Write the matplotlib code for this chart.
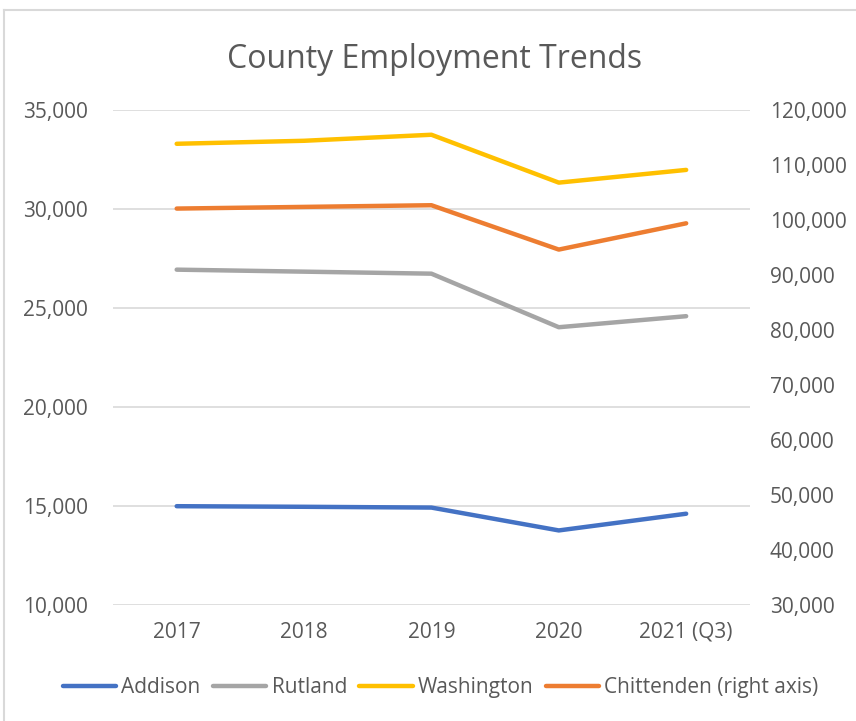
import matplotlib.pyplot as plt
from matplotlib.lines import Line2D
from matplotlib.ticker import FuncFormatter, MultipleLocator

years = ["2017", "2018", "2019", "2020", "2021 (Q3)"]
addison = [14990, 14960, 14920, 13765, 14610]
rutland = [26946, 26845, 26743, 24036, 24594]
washington = [33308, 33460, 33765, 31345, 31988]
chittenden = [102120, 102425, 102730, 94660, 99440]

TEXT = "#595959"
GRID = "#D9D9D9"

plt.rcParams['font.family'] = ['Open Sans', 'DejaVu Sans']


def thousands(v, pos):
    return f"{int(v):,}"


fig = plt.figure(figsize=(8.56, 7.21), dpi=100)
ax = fig.add_axes([0.132, 0.161, 0.744, 0.686])
ax2 = ax.twinx()

x = range(len(years))
line_kw = dict(linewidth=3.2, solid_capstyle='round', solid_joinstyle='round')
ax.plot(x, addison, color="#4472C4", label="Addison", **line_kw)
ax.plot(x, rutland, color="#A5A5A5", label="Rutland", **line_kw)
ax.plot(x, washington, color="#FFC000", label="Washington", **line_kw)
ax2.plot(x, chittenden, color="#ED7D31", label="Chittenden (right axis)", **line_kw)

ax.set_xlim(-0.5, len(years) - 0.5)
ax.set_ylim(10000, 35000)
ax2.set_ylim(30000, 120000)
ax.yaxis.set_major_locator(MultipleLocator(5000))
ax2.yaxis.set_major_locator(MultipleLocator(10000))
ax.yaxis.set_major_formatter(FuncFormatter(thousands))
ax2.yaxis.set_major_formatter(FuncFormatter(thousands))
ax.set_xticks(list(x))
ax.set_xticklabels(years)

ax.grid(axis='y', color=GRID, linewidth=1.2)
ax.set_axisbelow(True)
for a in (ax, ax2):
    for s in a.spines.values():
        s.set_visible(False)
    a.tick_params(length=0, labelsize=15, labelcolor=TEXT)
ax.tick_params(axis='y', pad=18)
ax2.tick_params(axis='y', pad=14.5)
ax.tick_params(axis='x', pad=12)

fig.text(0.508, 0.918, "County Employment Trends", ha='center', va='center',
         fontsize=23, color=TEXT)

handles = ax.get_lines() + ax2.get_lines()
fig.legend(handles, [h.get_label() for h in handles], loc='center',
           bbox_to_anchor=(0.515, 0.046), ncol=4, frameon=False,
           fontsize=15, handlelength=2.55, handletextpad=0.25,
           columnspacing=0.6, labelcolor=TEXT)

# chart area border (left and top edges visible)
fig.add_artist(Line2D([0.005, 0.005], [0.0, 0.986], color=GRID, linewidth=1.5,
                      transform=fig.transFigure))
fig.add_artist(Line2D([0.005, 1.0], [0.986, 0.986], color=GRID, linewidth=1.5,
                      transform=fig.transFigure))

fig.savefig("out.png", dpi=100)
